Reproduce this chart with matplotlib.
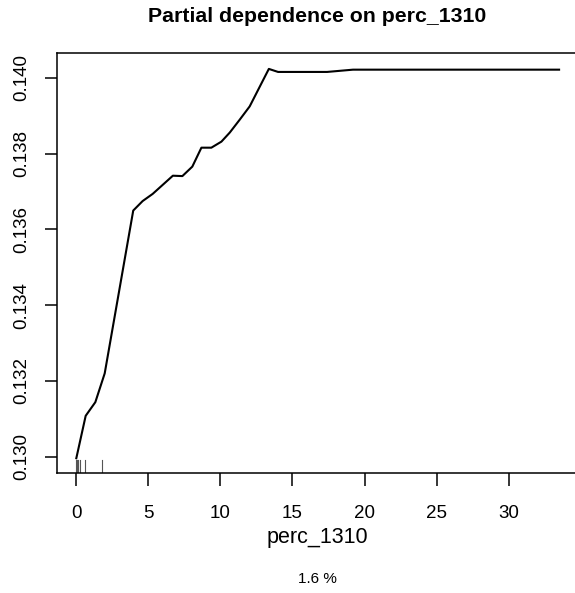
import matplotlib
matplotlib.use("Agg")
import matplotlib.pyplot as plt

plt.rcParams['font.family'] = ['Liberation Sans', 'DejaVu Sans']

# partial dependence curve
perc_1310 = [0, 0.65, 1.32, 1.97, 3.95, 4.6, 5.3, 6.7, 7.36, 8.05, 8.68, 9.37,
             10.07, 10.65, 11.34, 12.03, 13.36, 14.0, 17.4, 19.2, 33.5]
pd_value = [0.12996, 0.13108, 0.13144, 0.13220, 0.13650, 0.13675, 0.13694, 0.13742,
            0.13741, 0.13766, 0.13816, 0.13816, 0.13832, 0.13856, 0.13890, 0.13925,
            0.14024, 0.14016, 0.14016, 0.14022, 0.14022]
# deciles shown as rug
rug_x = [0, 0.05, 0.1, 0.15, 0.28, 0.58, 1.8]

xticks = [0, 5, 10, 15, 20, 25, 30]
yticks = [0.130, 0.132, 0.134, 0.136, 0.138, 0.140]

fig = plt.figure(figsize=(5.75, 5.93), dpi=100)
ax = fig.add_axes([57/575, 120/593, 521.4/575, 420/593])

ax.plot(perc_1310, pd_value, color='black', lw=1.5)
for r in rug_x:
    ax.axvline(r, ymin=0, ymax=0.03, color='#555555', lw=0.8)

ax.set_xlim(-1.34, 34.84)
ax.set_ylim(0.12957, 0.14066)
ax.set_xticks(xticks)
ax.set_xticklabels([str(t) for t in xticks])
ax.set_yticks(yticks)
ax.set_yticklabels(['%.3f' % t for t in yticks], rotation=90, va='center')
ax.tick_params(length=9, width=1.1, labelsize=13.5)
ax.tick_params(axis='x', pad=14)
ax.tick_params(axis='y', pad=10)
ax.spines['right'].set_visible(False)  # falls outside the figure in the original
for s in ax.spines.values():
    s.set_linewidth(1.1)

fig.text(317/575, 1 - 17/593, 'Partial dependence on perc_1310',
         ha='center', va='center', fontsize=15.3, fontweight='bold')
fig.text(317/575, 1 - 537/593, 'perc_1310', ha='center', va='center', fontsize=15.5)
fig.text(317/575, 1 - 579/593, '1.6 %', ha='center', va='center', fontsize=11)

fig.savefig('out.png', dpi=100)
